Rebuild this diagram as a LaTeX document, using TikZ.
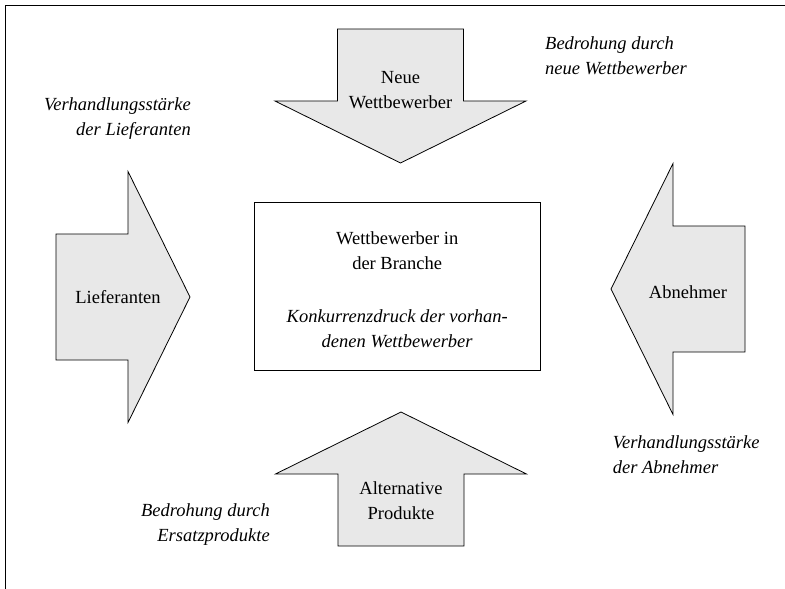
\documentclass[tikz,border=0pt]{standalone}
\usepackage{fontspec}
\setmainfont{Liberation Serif}
\usepackage{tikz}
\definecolor{arrowgray}{RGB}{232,232,232}

\begin{document}
\begin{tikzpicture}[x=1pt, y=-1pt, every node/.style={font=\fontsize{18.5}{25}\selectfont, inner sep=0pt},
  note/.style={font=\fontsize{18.5}{25}\selectfont\itshape}]
\useasboundingbox (0,0) rectangle (785,589);
\draw[line width=1pt] (785,5) -- (5,5) -- (5,589);  % the frame, cut off at the right and at the bottom

\draw[fill=arrowgray, line width=0.8pt, shift={(56,297)}] (0,-63) -- (72,-63) -- (72,-125.5) -- (134,0) -- (72,125.5) -- (72,63) -- (0,63) -- cycle;  % these 4 lines draw the 4 arrows, all of one shape
\draw[fill=arrowgray, line width=0.8pt, shift={(745,289)}, rotate=180] (0,-63) -- (72,-63) -- (72,-125.5) -- (134,0) -- (72,125.5) -- (72,63) -- (0,63) -- cycle;
\draw[fill=arrowgray, line width=0.8pt, shift={(400.5,29)}, rotate=-90] (0,-63) -- (72,-63) -- (72,-125.5) -- (134,0) -- (72,125.5) -- (72,63) -- (0,63) -- cycle;
\draw[fill=arrowgray, line width=0.8pt, shift={(401,546)}, rotate=90] (0,-63) -- (72,-63) -- (72,-125.5) -- (134,0) -- (72,125.5) -- (72,63) -- (0,63) -- cycle;

\node (L) at (118,297) {Lieferanten};
\node (A) at (688,292) {Abnehmer};
\node[align=center] (N) at (400.5,90) {Neue\\Wettbewerber};
\node[align=center] (P) at (401,500.5) {Alternative\\Produkte};

\draw[line width=0.8pt] (254.3,202.7) rectangle (540,370.7);  % box round the branch
\node[align=center] (W) at (397.2,289.5)
  {Wettbewerber in\\der Branche\\[28pt]\textit{Konkurrenzdruck der vorhan-}\\\textit{denen Wettbewerber}};

\node[note, align=right, anchor=east] (VL) at (191,119) {Verhandlungsstärke\\der Lieferanten};
\node[note, align=left, anchor=west] (BN) at (545,56) {Bedrohung durch\\neue Wettbewerber};
\node[note, align=left, anchor=west] (VA) at (612.7,455) {Verhandlungsstärke\\der Abnehmer};
\node[note, align=right, anchor=east] (BE) at (270,524.5) {Bedrohung durch\\Ersatzprodukte};
\end{tikzpicture}
\end{document}
